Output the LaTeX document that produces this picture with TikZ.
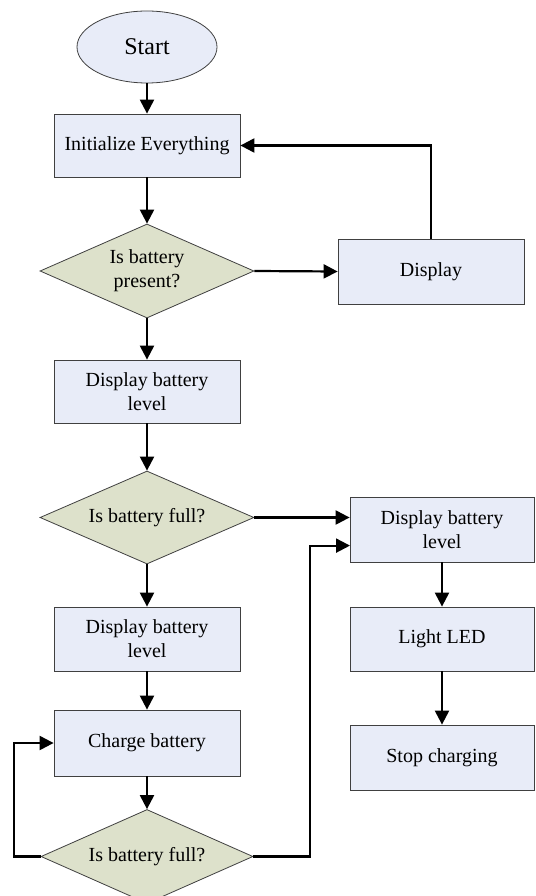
\documentclass[tikz,border=0pt]{standalone}
\usepackage{fontspec}
\setmainfont{Liberation Serif}
\usetikzlibrary{arrows.meta,shapes.geometric}
\definecolor{boxfill}{HTML}{E8ECF8}
\definecolor{diafill}{HTML}{DDE1CB}
\definecolor{edge}{HTML}{404040}
\tikzset{
  boxnode/.style={draw=edge,line width=0.8pt,fill=boxfill,rectangle,minimum width=186pt,minimum height=64pt,align=center,inner sep=2pt,font=\fontsize{20}{24}\selectfont},
  dianode/.style={draw=edge,line width=0.8pt,fill=diafill,diamond,minimum width=214pt,minimum height=94pt,inner sep=0pt},
  diatext/.style={align=center,inner sep=0pt,font=\fontsize{20}{24}\selectfont},
  startnode/.style={draw=edge,line width=0.8pt,fill=boxfill,ellipse,minimum width=140pt,minimum height=72pt,inner sep=0pt,font=\fontsize{24}{28}\selectfont},
  arr/.style={line width=2.2pt,-{Triangle[length=14pt,width=14pt]}}
}
\begin{document}
\begin{tikzpicture}[x=1pt,y=-1pt]
\useasboundingbox (0,0) rectangle (535,896);
\clip (0,0) rectangle (535,896);
\fill[white] (0,0) rectangle (535,896);
\node[startnode] (start) at (147,47) {Start};
\node[boxnode,minimum height=63pt] (init) at (147,145.5) {Initialize Everything};
\node[dianode] (q1) at (147,271) {};
\node[diatext] (q1t) at (q1) {Is battery\\present?};
\node[boxnode,minimum height=65pt] (disp) at (431,271.5) {Display};
\node[boxnode,minimum height=63pt] (dbl1) at (147,391.5) {Display battery\\level};
\node[dianode,minimum height=93pt] (q2) at (147,517.5) {};
\node[diatext] (q2t) at (q2) {Is battery full?};
\node[boxnode,minimum width=184pt,minimum height=65pt] (rdbl) at (442,529.5) {Display battery\\level};
\node[boxnode,minimum width=184pt] (led) at (442,639) {Light LED};
\node[boxnode,minimum width=184pt,minimum height=65pt] (stop) at (442,757.5) {Stop charging};
\node[boxnode] (ldbl) at (147,639) {Display battery\\level};
\node[boxnode,minimum height=66pt] (charge) at (147,743) {Charge battery};
\node[dianode,minimum width=212pt] (q3) at (147,856.5) {};
\node[diatext] (q3t) at (q3) {Is battery full?};
\coordinate (lx) at (13.7,0);
\coordinate (rx) at (309.6,0);
\coordinate (rin) at (350,545.6);
\draw[arr] (start.south) -- (init.north);
\draw[arr] (init.south) -- (q1.north);
\draw[arr] (q1.east) -- (disp.west);
\draw[arr] (disp.north) |- (init.east);
\draw[arr] (q1.south) -- (dbl1.north);
\draw[arr] (dbl1.south) -- (q2.north);
\draw[arr] (q2.east) -- (q2.east -| rdbl.west);
\draw[arr] (q2.south) -- (ldbl.north);
\draw[arr] (ldbl.south) -- (charge.north);
\draw[arr] (charge.south) -- (q3.north);
\draw[arr] (q3.west) -- (q3.west -| lx) |- (charge.west);
\draw[arr] (q3.east) -- (q3.east -| rx) |- (rin);
\draw[arr] (rdbl.south) -- (led.north);
\draw[arr] (led.south) -- (stop.north);
\end{tikzpicture}
\end{document}
